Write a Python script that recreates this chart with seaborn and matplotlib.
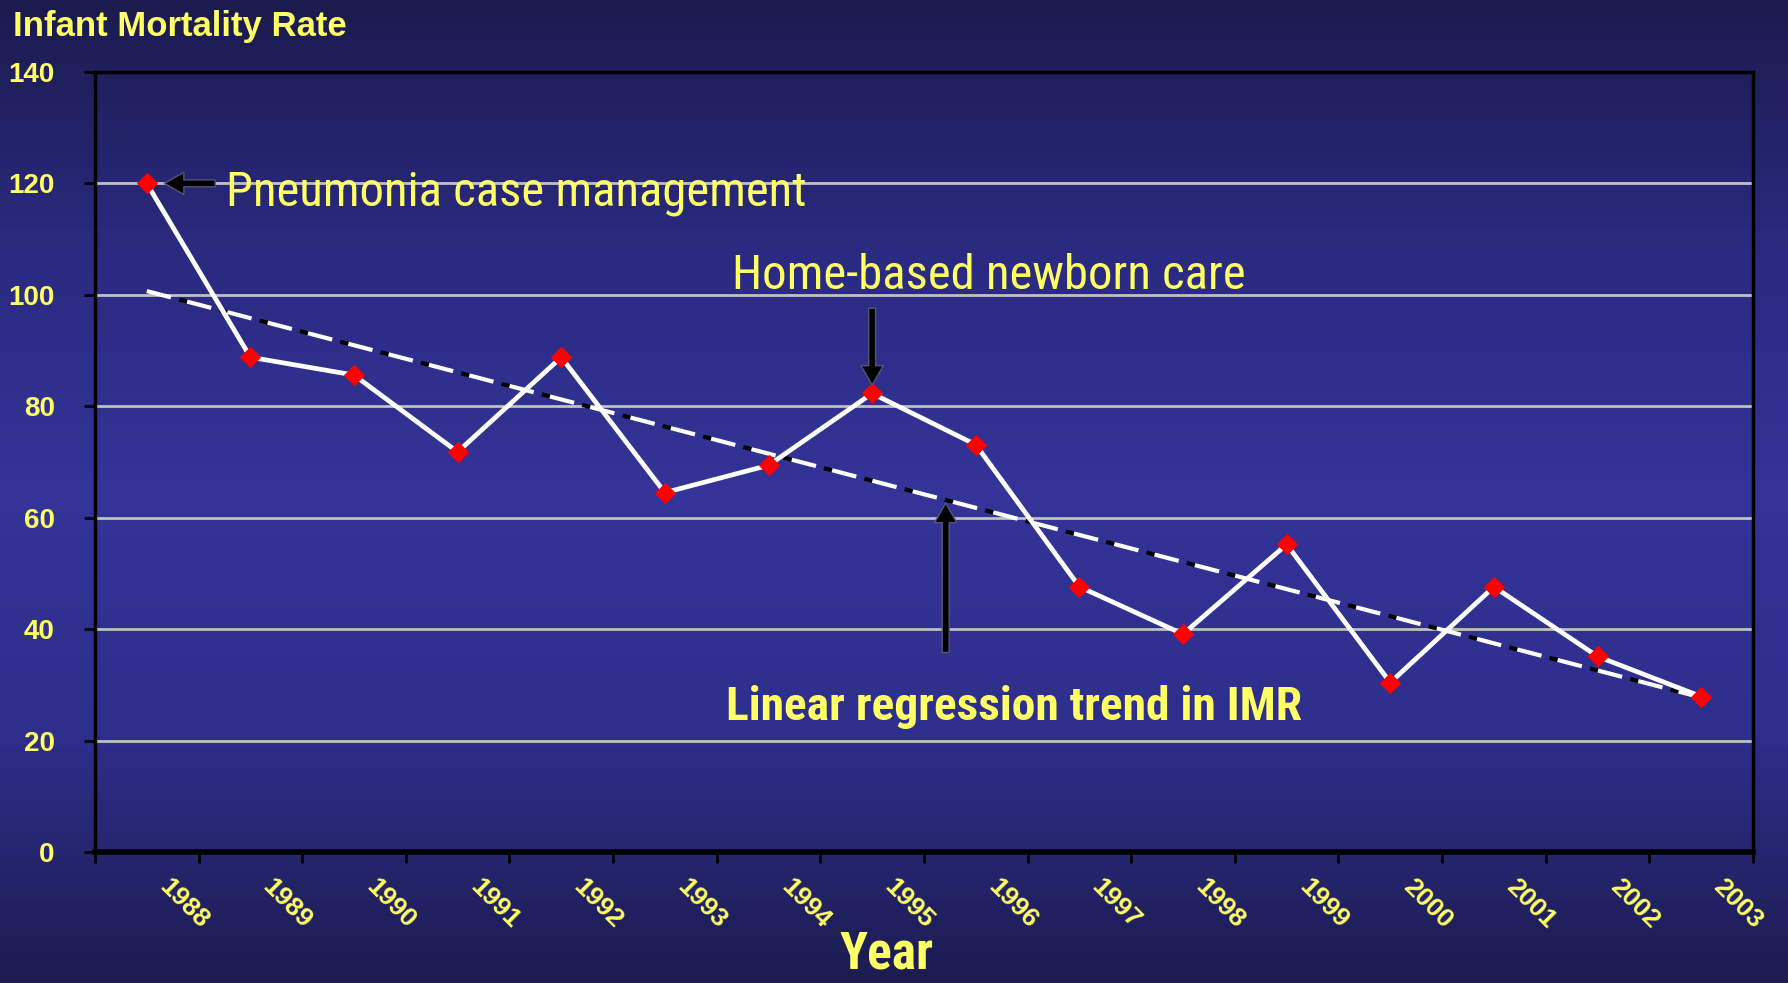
"""Infant mortality rate trend, 1988-2003."""

import numpy as np
import pandas as pd
import matplotlib
matplotlib.use('Agg')
import matplotlib.pyplot as plt
from matplotlib import font_manager
from matplotlib.colors import LinearSegmentedColormap
from matplotlib.transforms import ScaledTranslation
import seaborn as sns

# Data
years = ['1988', '1989', '1990', '1991', '1992', '1993', '1994', '1995',
         '1996', '1997', '1998', '1999', '2000', '2001', '2002', '2003']
imr = [120.0, 88.8, 85.6, 71.8, 88.8, 64.5, 69.4, 82.3,
       73.1, 47.6, 39.1, 55.2, 30.4, 47.6, 35.1, 27.9]
y_ticks = [0, 20, 40, 60, 80, 100, 120, 140]

YELLOW = '#FFFF66'

sns.set_theme(style='white')
plt.rcParams['font.family'] = ['Liberation Sans', 'DejaVu Sans']

# condensed face for the annotations (Arial Narrow look), if one is around
installed = {f.name for f in font_manager.fontManager.ttflist}
NARROW, scale = ['Liberation Sans'], 0.82
for name in ['Roboto Condensed', 'Liberation Sans Narrow', 'Archivo Narrow']:
    if name in installed:
        NARROW, scale = [name, 'Liberation Sans'], 0.95
        break

df = pd.DataFrame({'pos': np.arange(len(years)), 'year': years, 'imr': imr})

fig = plt.figure(figsize=(17.88, 9.83), dpi=100)

# Background gradient (dark navy -> blue -> dark navy)
bg = fig.add_axes([0, 0, 1, 1], zorder=-10)
cmap = LinearSegmentedColormap.from_list(
    'bg', ['#1B1B4E', '#2A2A80', '#343499', '#2E2E8C', '#1C1C50'])
bg.imshow(np.linspace(0, 1, 256).reshape(-1, 1), aspect='auto', cmap=cmap,
          extent=[0, 1, 0, 1])
bg.axis('off')

ax = fig.add_axes([0.0531, 0.1333, 0.9273, 0.7935])
ax.set_facecolor('none')

# Linear regression trend
slope, intercept = np.polyfit(df['pos'], df['imr'], 1)
trend = intercept + slope * df['pos']
ax.plot(df['pos'], trend, color='black', lw=3, ls=(2, (3, 7)), zorder=2)
ax.plot(df['pos'], trend, color='white', lw=3, ls=(0, (6, 4)), zorder=3)

# IMR series
sns.lineplot(data=df, x='pos', y='imr', ax=ax, color='white', lw=3.4,
             marker='D', markersize=10, markerfacecolor='red',
             markeredgecolor='red', zorder=4)

ax.set_xlim(-0.5, len(years) - 0.5)
ax.set_ylim(0, 140)
ax.set_yticks(y_ticks)
ax.set_yticklabels(y_ticks, color=YELLOW, fontsize=20, fontweight='bold')
for v in y_ticks[1:-1]:
    ax.axhline(v, color='#C0C0C0', lw=2, zorder=1)

ax.set_xticks(np.arange(len(years) + 1) - 0.5, minor=True)
ax.set_xticks(df['pos'])
ax.set_xticklabels(years, rotation=-45, rotation_mode='anchor', ha='center',
                   va='center', color=YELLOW, fontsize=19, fontweight='bold')
ax.tick_params(axis='x', which='major', length=0, pad=37)
ax.tick_params(axis='x', which='minor', length=8, width=2, color='black',
               direction='out', bottom=True)
ax.tick_params(axis='y', length=8, width=2, color='black', direction='out',
               left=True, pad=21)
shift = ScaledTranslation(0.37, 0, fig.dpi_scale_trans)
for label in ax.get_xticklabels():
    label.set_transform(label.get_transform() + shift)

for side in ['left', 'right', 'top']:
    ax.spines[side].set_color('black')
    ax.spines[side].set_linewidth(2.5)
ax.spines['bottom'].set_color('black')
ax.spines['bottom'].set_linewidth(4)

ax.set_xlabel('')
ax.set_ylabel('')

fig.text(0.007, 0.99, 'Infant Mortality Rate', color=YELLOW, fontsize=25,
         fontweight='bold', ha='left', va='top')
fig.text(0.496, 0.004, 'Year', color=YELLOW, fontsize=39 * scale,
         fontweight='bold', ha='center', va='bottom', family=NARROW)

# Annotations
arrow = dict(facecolor='black', edgecolor='#555577', width=5, headwidth=16,
             headlength=14, lw=1)
ax.annotate('', xy=(0.17, 120), xytext=(0.66, 120), arrowprops=arrow, zorder=5)
ax.text(0.76, 118.3, 'Pneumonia case management', color=YELLOW,
        fontsize=37 * scale, ha='left', va='center', family=NARROW)

ax.annotate('', xy=(7.0, 83.8), xytext=(7.0, 97.6), arrowprops=arrow, zorder=5)
ax.text(8.13, 103.4, 'Home-based newborn care', color=YELLOW,
        fontsize=37 * scale, ha='center', va='center', family=NARROW)

ax.annotate('', xy=(7.71, 62.6), xytext=(7.71, 35.8), arrowprops=arrow, zorder=5)
ax.text(8.37, 26.0, 'Linear regression trend in IMR', color=YELLOW,
        fontsize=36 * scale, fontweight='bold', ha='center', va='center',
        family=NARROW)

plt.savefig('out.png', dpi=100)
plt.close()
